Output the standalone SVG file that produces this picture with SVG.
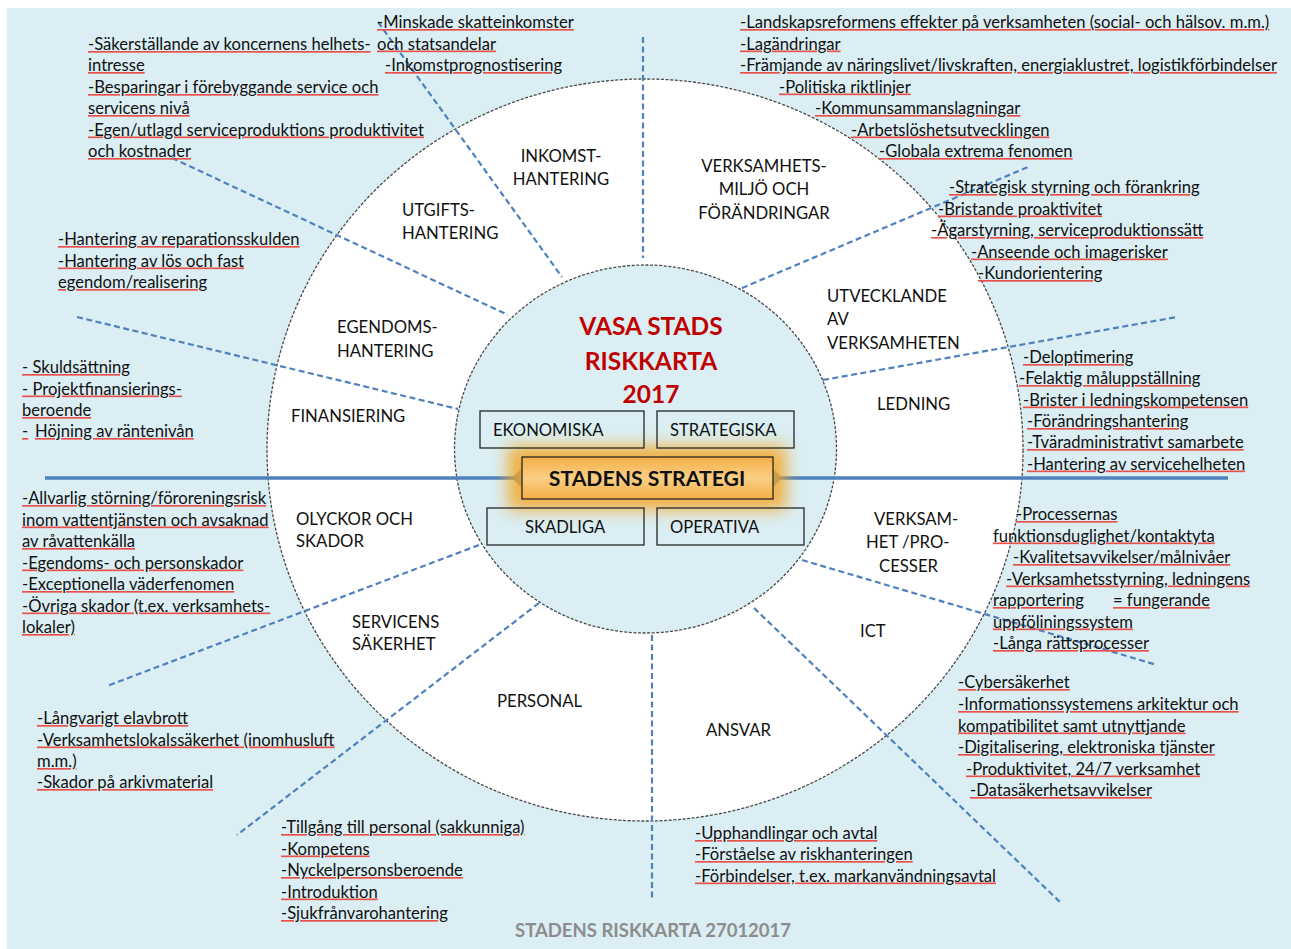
<svg xmlns="http://www.w3.org/2000/svg" width="1291" height="949" viewBox="0 0 1291 949">
<style>
.t{font-family:Lato,"Carlito","Liberation Sans",sans-serif;font-size:16.6px;fill:#E8504A;text-decoration-line:underline;text-decoration-style:wavy}
.t>tspan{fill:#111}
.l{font-family:Lato,"Carlito","Liberation Sans",sans-serif;font-size:16.7px;fill:#111}
.b{font-family:Lato,"Carlito","Liberation Sans",sans-serif;font-size:16.6px;fill:#111}
.ttl{font-family:Lato,"Carlito","Liberation Sans",sans-serif;font-size:24.5px;font-weight:bold;fill:#C00000;text-anchor:middle}
.sp{stroke:#4F81BD;stroke-width:2.2;stroke-dasharray:6 3.5;fill:none}
.ring{stroke:#4a4a4a;stroke-width:1.3;stroke-dasharray:3 1.6}
.box{fill:none;stroke:#262626;stroke-width:1.3}
</style>
<defs>
<filter id="glow" x="-30%" y="-100%" width="160%" height="300%"><feGaussianBlur stdDeviation="8"/></filter>
<linearGradient id="og" x1="0" y1="0" x2="0" y2="1">
<stop offset="0" stop-color="#F5AE45"/><stop offset="0.5" stop-color="#F9CF85"/><stop offset="1" stop-color="#F5AE45"/>
</linearGradient>
<marker id="dm" viewBox="-10 -10 20 20" markerWidth="20" markerHeight="20" markerUnits="userSpaceOnUse" orient="auto"><path d="M-9 0L0-9L9 0L0 9Z" fill="#4F81BD"/></marker>
</defs>
<rect x="7" y="8" width="1284" height="941" fill="#DAEEF3"/>
<g id="ring">
<ellipse cx="645" cy="450" rx="378" ry="371" fill="#fff" class="ring"/>
<ellipse cx="645.5" cy="449" rx="191" ry="184" fill="#DAEEF3" class="ring"/>
</g>
<g id="connectors">
<line class="sp" x1="643" y1="37" x2="643" y2="258"/>
<line class="sp" x1="378" y1="22" x2="562" y2="277"/>
<line class="sp" x1="172" y1="158" x2="508" y2="315"/>
<line class="sp" x1="77" y1="317" x2="458" y2="409"/>
<line class="sp" x1="479" y1="545" x2="107" y2="686"/>
<line class="sp" x1="539" y1="603" x2="237" y2="835"/>
<line class="sp" x1="652" y1="635" x2="652" y2="900"/>
<line class="sp" x1="754" y1="608" x2="1060" y2="902"/>
<line class="sp" x1="802" y1="560" x2="1157" y2="665"/>
<line class="sp" x1="823" y1="380" x2="1177" y2="317"/>
<line class="sp" x1="742" y1="288" x2="1028" y2="167"/>
<line x1="45" y1="478" x2="521" y2="478" stroke="#4F81BD" stroke-width="3.5" marker-end="url(#dm)"/>
<line x1="1228" y1="478" x2="773" y2="478" stroke="#4F81BD" stroke-width="3.5" marker-end="url(#dm)"/>
</g>
<g id="center">
<text class="ttl" x="651" y="335">VASA STADS</text>
<text class="ttl" x="651" y="370">RISKKARTA</text>
<text class="ttl" x="651" y="403">2017</text>
<rect x="508" y="446" width="278" height="64" fill="#F5A623" opacity="0.85" filter="url(#glow)"/>
<g id="ekonomiska"><rect class="box" x="480" y="411" width="164" height="37"/><text class="b" x="493" y="436">EKONOMISKA</text></g>
<g id="strategiska"><rect class="box" x="657" y="411" width="137" height="37"/><text class="b" x="670" y="436">STRATEGISKA</text></g>
<g id="skadliga"><rect class="box" x="487" y="508" width="157" height="37"/><text class="b" x="525" y="533">SKADLIGA</text></g>
<g id="operativa"><rect class="box" x="657" y="508" width="147" height="37"/><text class="b" x="670" y="533">OPERATIVA</text></g>
<g id="strategi"><rect x="522" y="457" width="251" height="42" fill="url(#og)" stroke="#262626" stroke-width="1.3"/>
<text x="647" y="485.5" text-anchor="middle" style="font-family:Lato,'Liberation Sans',sans-serif;font-size:21.2px;font-weight:bold;fill:#111">STADENS STRATEGI</text></g>
</g>
<g id="sectors">
<g id="s-inkomst"><text class="l" x="561" y="162" text-anchor="middle">INKOMST-</text><text class="l" x="561" y="185" text-anchor="middle">HANTERING</text></g>
<g id="s-utgifts"><text class="l" x="402" y="216">UTGIFTS-</text><text class="l" x="402" y="239">HANTERING</text></g>
<g id="s-verksamhetsmiljo"><text class="l" x="764" y="172" text-anchor="middle">VERKSAMHETS-</text><text class="l" x="764" y="195" text-anchor="middle">MILJÖ OCH</text><text class="l" x="764" y="219" text-anchor="middle">FÖRÄNDRINGAR</text></g>
<g id="s-utvecklande"><text class="l" x="827" y="302">UTVECKLANDE</text><text class="l" x="827" y="325">AV</text><text class="l" x="827" y="349">VERKSAMHETEN</text></g>
<g id="s-ledning"><text class="l" x="877" y="410">LEDNING</text></g>
<g id="s-processer"><text class="l" x="874" y="525">VERKSAM-</text><text class="l" x="866" y="548">HET /PRO-</text><text class="l" x="879" y="572">CESSER</text></g>
<g id="s-ict"><text class="l" x="860" y="637">ICT</text></g>
<g id="s-ansvar"><text class="l" x="706" y="736">ANSVAR</text></g>
<g id="s-personal"><text class="l" x="497" y="707">PERSONAL</text></g>
<g id="s-servicens"><text class="l" x="352" y="628">SERVICENS</text><text class="l" x="352" y="650">SÄKERHET</text></g>
<g id="s-olyckor"><text class="l" x="296" y="525">OLYCKOR OCH</text><text class="l" x="296" y="547">SKADOR</text></g>
<g id="s-finansiering"><text class="l" x="291" y="422">FINANSIERING</text></g>
<g id="s-egendoms"><text class="l" x="337" y="333">EGENDOMS-</text><text class="l" x="337" y="357">HANTERING</text></g>
</g>
<g id="risks">
<g id="r-utgifts">
<text class="t" x="88" y="50"><tspan>-Säkerställande av koncernens helhets-</tspan></text>
<text class="t" x="88" y="71"><tspan>intresse</tspan></text>
<text class="t" x="88" y="93"><tspan>-Besparingar i förebyggande service och</tspan></text>
<text class="t" x="88" y="114"><tspan>servicens nivå</tspan></text>
<text class="t" x="88" y="135.5"><tspan>-Egen/utlagd serviceproduktions produktivitet</tspan></text>
<text class="t" x="88" y="157"><tspan>och kostnader</tspan></text>
</g>
<g id="r-inkomst">
<text class="t" x="377" y="28"><tspan>-Minskade skatteinkomster</tspan></text>
<text class="t" x="377" y="49.5"><tspan>och statsandelar</tspan></text>
<text class="t" x="385" y="71"><tspan>-Inkomstprognostisering</tspan></text>
</g>
<g id="r-verksamhetsmiljo">
<text class="t" x="740" y="28"><tspan>-Landskapsreformens effekter på verksamheten (social- och hälsov. m.m.)</tspan></text>
<text class="t" x="740" y="49.5"><tspan>-Lagändringar</tspan></text>
<text class="t" x="740" y="71"><tspan>-Främjande av näringslivet/livskraften, energiaklustret, logistikförbindelser</tspan></text>
<text class="t" x="779" y="92.5"><tspan>-Politiska riktlinjer</tspan></text>
<text class="t" x="815" y="114"><tspan>-Kommunsammanslagningar</tspan></text>
<text class="t" x="851" y="135.5"><tspan>-Arbetslöshetsutvecklingen</tspan></text>
<text class="t" x="879" y="157"><tspan>-Globala extrema fenomen</tspan></text>
</g>
<g id="r-utvecklande">
<text class="t" x="949" y="193"><tspan>-Strategisk styrning och förankring</tspan></text>
<text class="t" x="938" y="214.5"><tspan>-Bristande proaktivitet</tspan></text>
<text class="t" x="931" y="236"><tspan>-Ägarstyrning, serviceproduktionssätt</tspan></text>
<text class="t" x="971" y="257.5"><tspan>-Anseende och imagerisker</tspan></text>
<text class="t" x="978" y="279"><tspan>-Kundorientering</tspan></text>
</g>
<g id="r-ledning">
<text class="t" x="1023" y="363"><tspan>-Deloptimering</tspan></text>
<text class="t" x="1019" y="384"><tspan>-Felaktig måluppställning</tspan></text>
<text class="t" x="1023" y="405.5"><tspan>-Brister i ledningskompetensen</tspan></text>
<text class="t" x="1027" y="427"><tspan>-Förändringshantering</tspan></text>
<text class="t" x="1027" y="448"><tspan>-Tväradministrativt samarbete</tspan></text>
<text class="t" x="1027" y="469.5"><tspan>-Hantering av servicehelheten</tspan></text>
</g>
<g id="r-processer">
<text class="t" x="1016" y="520"><tspan>-Processernas</tspan></text>
<text class="t" x="993" y="541.5"><tspan>funktionsduglighet/kontaktyta</tspan></text>
<text class="t" x="1013" y="563"><tspan>-Kvalitetsavvikelser/målnivåer</tspan></text>
<text class="t" x="1006" y="584.5"><tspan>-Verksamhetsstyrning, ledningens</tspan></text>
<text class="t" x="993" y="606"><tspan>rapportering</tspan></text><text class="t" x="1113" y="606"><tspan>= fungerande</tspan></text>
<text class="t" x="993" y="627.5"><tspan>uppföliningssystem</tspan></text>
<text class="t" x="993" y="649"><tspan>-Långa rättsprocesser</tspan></text>
</g>
<g id="r-ict">
<text class="t" x="958" y="688"><tspan>-Cybersäkerhet</tspan></text>
<text class="t" x="958" y="710"><tspan>-Informationssystemens arkitektur och</tspan></text>
<text class="t" x="958" y="731.5"><tspan>kompatibilitet samt utnyttjande</tspan></text>
<text class="t" x="958" y="753"><tspan>-Digitalisering, elektroniska tjänster</tspan></text>
<text class="t" x="966" y="774.5"><tspan>-Produktivitet, 24/7 verksamhet</tspan></text>
<text class="t" x="970" y="796"><tspan>-Datasäkerhetsavvikelser</tspan></text>
</g>
<g id="r-ansvar">
<text class="t" x="695" y="839"><tspan>-Upphandlingar och avtal</tspan></text>
<text class="t" x="695" y="860"><tspan>-Förståelse av riskhanteringen</tspan></text>
<text class="t" x="695" y="881.5"><tspan>-Förbindelser, t.ex. markanvändningsavtal</tspan></text>
</g>
<g id="r-personal">
<text class="t" x="281" y="833"><tspan>-Tillgång till personal (sakkunniga)</tspan></text>
<text class="t" x="281" y="854.5"><tspan>-Kompetens</tspan></text>
<text class="t" x="281" y="876"><tspan>-Nyckelpersonsberoende</tspan></text>
<text class="t" x="281" y="897.5"><tspan>-Introduktion</tspan></text>
<text class="t" x="281" y="919"><tspan>-Sjukfrånvarohantering</tspan></text>
</g>
<g id="r-servicens">
<text class="t" x="37" y="724"><tspan>-Långvarigt elavbrott</tspan></text>
<text class="t" x="37" y="745.5"><tspan>-Verksamhetslokalssäkerhet (inomhusluft</tspan></text>
<text class="t" x="37" y="767"><tspan>m.m.)</tspan></text>
<text class="t" x="37" y="788"><tspan>-Skador på arkivmaterial</tspan></text>
</g>
<g id="r-olyckor">
<text class="t" x="22" y="504"><tspan>-Allvarlig störning/föroreningsrisk</tspan></text>
<text class="t" x="22" y="525.5"><tspan>inom vattentjänsten och avsaknad</tspan></text>
<text class="t" x="22" y="547"><tspan>av råvattenkälla</tspan></text>
<text class="t" x="22" y="568.5"><tspan>-Egendoms- och personskador</tspan></text>
<text class="t" x="22" y="590"><tspan>-Exceptionella väderfenomen</tspan></text>
<text class="t" x="22" y="611.5"><tspan>-Övriga skador (t.ex. verksamhets-</tspan></text>
<text class="t" x="22" y="633"><tspan>lokaler)</tspan></text>
</g>
<g id="r-finansiering">
<text class="t" x="22" y="373"><tspan>- Skuldsättning</tspan></text>
<text class="t" x="22" y="394.5"><tspan>- Projektfinansierings-</tspan></text>
<text class="t" x="22" y="416"><tspan>beroende</tspan></text>
<text class="t" x="22" y="437"><tspan>-</tspan></text><text class="t" x="35" y="437"><tspan>Höjning av räntenivån</tspan></text>
</g>
<g id="r-egendoms">
<text class="t" x="58" y="245"><tspan>-Hantering av reparationsskulden</tspan></text>
<text class="t" x="58" y="266.5"><tspan>-Hantering av lös och fast</tspan></text>
<text class="t" x="58" y="288"><tspan>egendom/realisering</tspan></text>
</g>
</g>
<text id="footer" x="515" y="937" style="font-family:Lato,'Liberation Sans',sans-serif;font-size:18.5px;font-weight:bold;fill:#8C8C8C">STADENS RISKKARTA 27012017</text>
</svg>
